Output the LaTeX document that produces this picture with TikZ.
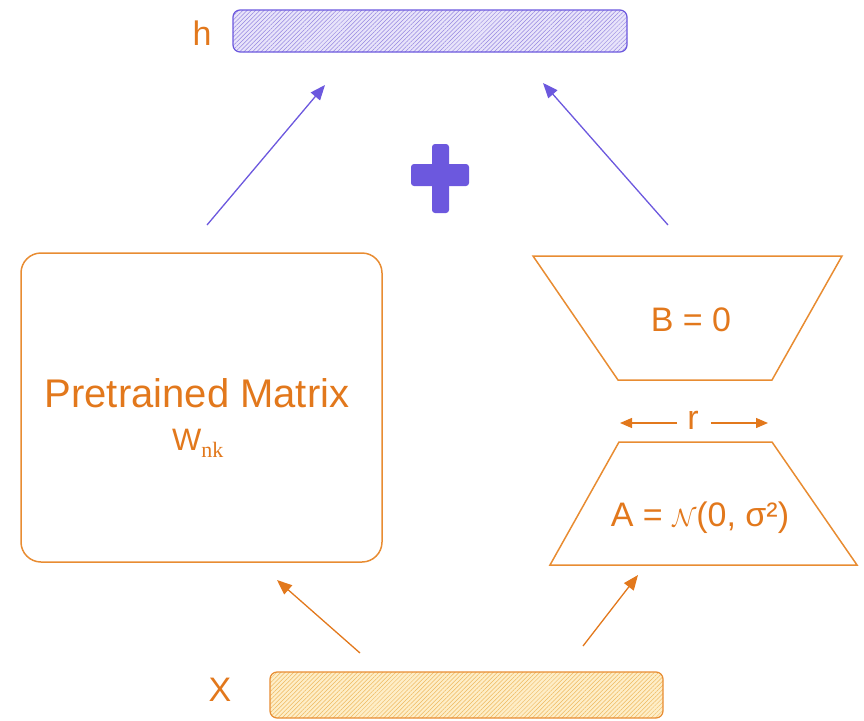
\documentclass[tikz,border=0pt]{standalone}
\usepackage{fontspec}
\setmainfont{Liberation Sans}
\usetikzlibrary{arrows.meta,patterns.meta}
\definecolor{orng}{RGB}{226,120,28}
\definecolor{orngline}{RGB}{232,140,50}
\definecolor{purp}{RGB}{108,88,222}
\definecolor{purpfill}{RGB}{232,228,250}
\definecolor{purphatch}{RGB}{150,135,225}
\definecolor{yelfill}{RGB}{254,238,200}
\definecolor{yelhatch}{RGB}{238,185,95}
\tikzset{
  biglbl/.style={text=orng, font=\fontsize{40}{44}\selectfont, inner sep=0pt},
  lbl/.style={text=orng, font=\fontsize{34}{38}\selectfont, inner sep=0pt},
  midlbl/.style={text=orng, font=\fontsize{34}{38}\selectfont, inner sep=0pt},
  outl/.style={draw=orngline, line width=1.5pt},
  parr/.style={draw=purp, line width=1.3pt, -{Triangle[length=15pt,width=12pt]}},
  oarr/.style={draw=orng, line width=1.3pt, -{Triangle[length=15pt,width=12pt]}},
  rarr/.style={draw=orng, line width=1.3pt, -{Triangle[length=12pt,width=10pt]}},
}
\begin{document}
\begin{tikzpicture}[x=1pt,y=-1pt]
\useasboundingbox (0,0) rectangle (864,720);
% h bar
\node[draw=purp, line width=1.2pt, rounded corners=7pt, minimum width=394pt, minimum height=42pt,
  preaction={fill=purpfill},
  pattern={Lines[angle=45,distance=3pt,line width=0.5pt]}, pattern color=purphatch]
  (hbar) at (430,31) {};
\node[lbl] (hlbl) at (202,33) {h};
% plus
\fill[purp, rounded corners=3pt] (432,144) rectangle (449,213);
\fill[purp, rounded corners=3pt] (411,164) rectangle (469,186);
\coordinate (plus) at (440,178);
% pretrained box
\node[outl, rounded corners=20pt, minimum width=361pt, minimum height=309pt] (W) at (201.5,407.5) {};
\node[biglbl] (wtitle) at (197,393) {Pretrained Matrix};
\node[text=orng, font=\fontsize{31}{34}\selectfont, inner sep=0pt, anchor=west] (wsub) at (172,443) {W\textsubscript{\fontspec{Liberation Serif}\fontsize{22}{24}\selectfont nk}};
% B trapezoid
\draw[outl] (533,256) -- (842,256) -- (772,380) -- (618,380) -- cycle;
\node[midlbl] (Blbl) at (691,320) {B = 0};
% r
\node[midlbl] (r) at (693,420) {r};
\coordinate (rl) at (620,423);
\coordinate (rr) at (768,423);
\draw[rarr] ([xshift=-10pt]r.west |- rl) -- (rl);
\draw[rarr] ([xshift=12pt]r.east |- rr) -- (rr);
% A trapezoid
\draw[outl] (619,442) -- (772,442) -- (857,565) -- (550,565) -- cycle;
\node[midlbl] (Albl) at (700,518) {A = $\mathcal{N}$(0, σ²)};
% X bar
\node[draw=orngline, line width=1.2pt, rounded corners=7pt, minimum width=393pt, minimum height=46pt,
  preaction={fill=yelfill},
  pattern={Lines[angle=45,distance=3pt,line width=0.5pt]}, pattern color=yelhatch]
  (xbar) at (466.5,695) {};
\node[lbl] (xlbl) at (220,690) {X};
% arrow coordinates
\coordinate (p1s) at (207,225); \coordinate (p1e) at (325,85);
\coordinate (p2s) at (668,225); \coordinate (p2e) at (543,83);
\coordinate (o1s) at (360,653); \coordinate (o1e) at (277,580);
\coordinate (o2s) at (583,646); \coordinate (o2e) at (638,575);
\draw[parr] (p1s) -- (p1e);
\draw[parr] (p2s) -- (p2e);
\draw[oarr] (o1s) -- (o1e);
\draw[oarr] (o2s) -- (o2e);
\end{tikzpicture}
\end{document}
